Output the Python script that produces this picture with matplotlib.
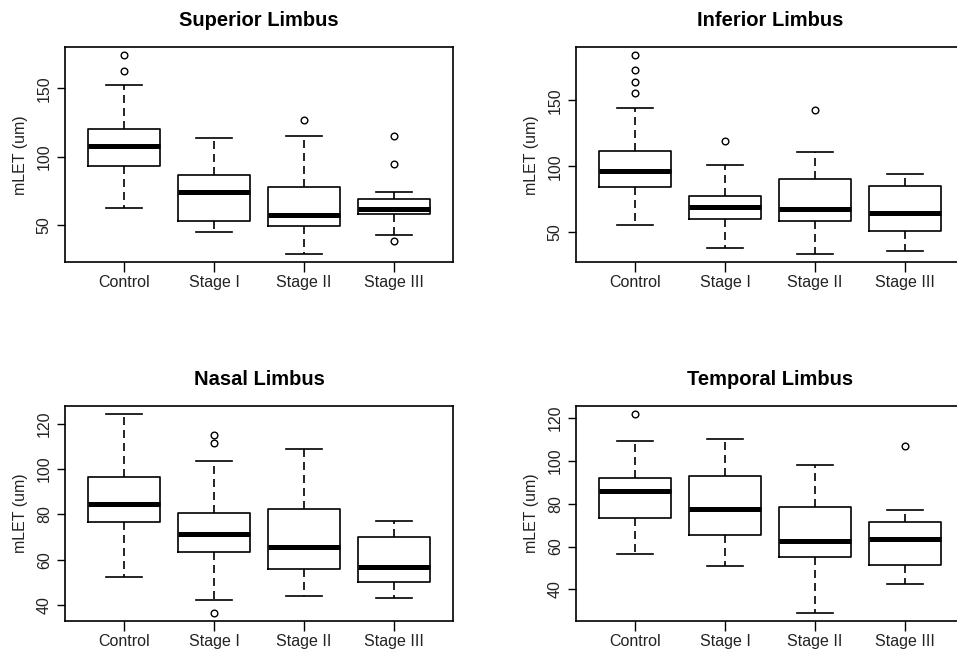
import numpy as np
import matplotlib.pyplot as plt
from matplotlib import rcParams
rcParams['font.family'] = ['Liberation Sans', 'DejaVu Sans']

groups = ['Control', 'Stage I', 'Stage II', 'Stage III']

# five-number summaries: whislo, q1, med, q3, whishi
sup_stats = [[62.9, 93.4, 107.8, 120.0, 152.4],
             [44.9, 53.2, 74.4, 86.6, 113.4],
             [28.8, 49.3, 57.3, 78.3, 115.1],
             [42.9, 58.3, 62.0, 69.3, 74.1]]
sup_out = [[174.1, 162.7], [], [126.6], [115.1, 95.1, 38.3]]

inf_stats = [[55.8, 84.6, 96.2, 111.9, 144.4],
             [38.1, 59.8, 68.9, 77.5, 101.0],
             [33.3, 58.6, 67.7, 90.4, 110.9],
             [36.1, 51.0, 64.9, 85.4, 93.9]]
inf_out = [[184.1, 173.0, 163.6, 155.3], [118.9], [142.4], []]

nas_stats = [[52.7, 76.8, 84.7, 96.7, 124.2],
             [42.5, 63.6, 71.5, 80.6, 103.6],
             [44.1, 56.1, 65.9, 82.5, 108.6],
             [43.5, 50.4, 56.7, 69.9, 77.2]]
nas_out = [[], [115.0, 111.4, 36.8], [], []]

tem_stats = [[56.5, 73.5, 86.1, 92.1, 109.3],
             [50.9, 65.5, 77.7, 92.8, 110.4],
             [29.1, 55.1, 62.4, 78.3, 98.2],
             [42.5, 51.5, 63.7, 71.4, 76.9]]
tem_out = [[121.9], [], [], [106.8]]

titles = ['Superior Limbus', 'Inferior Limbus', 'Nasal Limbus', 'Temporal Limbus']
yticks = [[50, 100, 150], [50, 100, 150], [40, 60, 80, 100, 120], [40, 60, 80, 100, 120]]

W, H = 957, 656
# axes rectangles in pixels: left, top, width, height
boxes = [(65, 47.3, 388, 215), (576, 47.3, 388, 215),
         (65, 406, 388, 214.7), (576, 406, 388, 214.7)]


def rbox(ax, stats, outs, title, ticks):
    bxs = []
    for lab, s, o in zip(groups, stats, outs):
        bxs.append(dict(label=lab, whislo=s[0], q1=s[1], med=s[2],
                        q3=s[3], whishi=s[4], fliers=o))
    ax.bxp(bxs, widths=0.8, capwidths=0.4, patch_artist=False,
           boxprops=dict(color='k', lw=1.2),
           whiskerprops=dict(color='k', lw=1.2, linestyle=(0, (4.8, 3))),
           capprops=dict(color='k', lw=1.2),
           medianprops=dict(color='k', lw=3.6, solid_capstyle='butt'),
           flierprops=dict(marker='o', mfc='none', mec='k', ms=4.8, mew=1.0))
    lo = min([s[0] for s in stats] + [v for o in outs for v in o])
    hi = max([s[4] for s in stats] + [v for o in outs for v in o])
    d = (hi - lo) * 0.04
    ax.set_ylim(lo - d, hi + d)
    ax.set_xlim(0.34, 4.66)
    ax.set_yticks(ticks)
    ax.set_yticklabels([str(t) for t in ticks], rotation=90, va='center')
    ax.tick_params(axis='y', length=6, width=1, pad=3.5, labelsize=11.5,
                   labelcolor='#222222')
    ax.tick_params(axis='x', length=7, width=1, pad=2.5, labelsize=11.5,
                   labelcolor='#222222')
    for sp in ax.spines.values():
        sp.set_linewidth(1.2)
    ax.set_ylabel('mLET (um)', fontsize=11.5, labelpad=6, color='#222222')
    ax.set_title(title, fontsize=14.5, fontweight='bold', pad=15)


fig = plt.figure(figsize=(W / 100, H / 100), dpi=100)
data = [(sup_stats, sup_out), (inf_stats, inf_out),
        (nas_stats, nas_out), (tem_stats, tem_out)]
for (l, t, w, h), (st, ou), ti, tk in zip(boxes, data, titles, yticks):
    ax = fig.add_axes([l / W, 1 - (t + h) / H, w / W, h / H])
    rbox(ax, st, ou, ti, tk)

fig.savefig('out.png', dpi=100)
